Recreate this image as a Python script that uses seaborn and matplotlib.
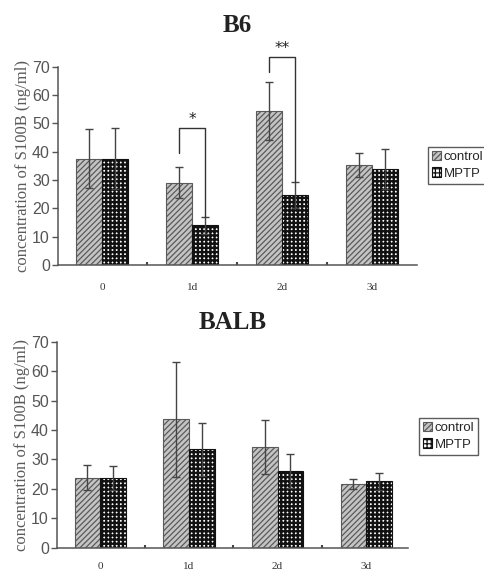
import matplotlib
matplotlib.use("Agg")
import matplotlib.pyplot as plt
import seaborn as sns
import pandas as pd
import numpy as np
from matplotlib.patches import Patch

days = ["0", "1d", "2d", "3d"]
groups = ["control", "MPTP"]

b6_control = [37.6, 29.1, 54.4, 35.3]
b6_control_err = [10.5, 5.6, 10.2, 4.2]
b6_mptp = [37.6, 14.1, 24.7, 33.8]
b6_mptp_err = [10.9, 3.0, 4.5, 7.0]

balb_control = [23.8, 43.6, 34.3, 21.5]
balb_control_err = [4.2, 19.5, 9.1, 1.7]
balb_mptp = [23.8, 33.5, 26.2, 22.6]
balb_mptp_err = [4.1, 9.0, 5.8, 2.9]

yticks = [0, 10, 20, 30, 40, 50, 60, 70]

sns.set_theme(style="white")
plt.rcParams["hatch.linewidth"] = 0.9

fig = plt.figure(figsize=(4.85, 5.73), dpi=100)
ax1 = fig.add_axes([0.120, 0.5375, 0.740, 0.346])
ax2 = fig.add_axes([0.118, 0.0442, 0.723, 0.3595])

GRAY = "#555555"
styles = {
    "control": dict(face="#c4c4c4", edge="#5a5a5a", hatch="//////", hlw=0.9),
    "MPTP": dict(face="#ffffff", edge="#111111", hatch="++++", hlw=1.7),
}


def style_patch(p, st):
    p.set_facecolor(st["face"])
    p.set_edgecolor(st["edge"])
    p.set_hatch(st["hatch"])
    if hasattr(p, "set_hatch_linewidth"):
        p.set_hatch_linewidth(st["hlw"])


def draw(ax, title, ctrl, ctrl_err, mptp, mptp_err, xlim, legend_pos, xpad,
         tpad):
    df = pd.DataFrame({
        "day": days * 2,
        "group": ["control"] * 4 + ["MPTP"] * 4,
        "value": list(ctrl) + list(mptp),
    })
    sns.barplot(data=df, x="day", y="value", hue="group", order=days,
                hue_order=groups, width=0.58, errorbar=None, ax=ax,
                legend=False)
    errs = {"control": ctrl_err, "MPTP": mptp_err}
    centers = {}
    for cont, g in zip(ax.containers, groups):
        st = styles[g]
        xs, hs = [], []
        for p in cont.patches:
            style_patch(p, st)
            p.set_linewidth(0.8)
            xs.append(p.get_x() + p.get_width() / 2)
            hs.append(p.get_height())
        centers[g] = (xs, hs)
        ax.errorbar(xs, hs, yerr=errs[g], fmt="none", ecolor="#444444",
                    elinewidth=1.0, capsize=3, capthick=1.0, zorder=5)
    ax.set_ylim(0, 70)
    ax.set_xlim(*xlim)
    ax.set_yticks(yticks)
    ax.set_yticklabels([str(t) for t in yticks], fontsize=11.5,
                       family="Liberation Sans", color=GRAY)
    ax.set_xticks(range(4))
    ax.set_xticklabels(days, fontsize=8, family="Liberation Serif",
                       color="#333333")
    ax.tick_params(axis="x", length=0, pad=xpad)
    ax.tick_params(axis="y", length=4, width=1, color=GRAY, direction="out",
                   left=True, pad=2)
    ax.set_xticks([0.5, 1.5, 2.5], minor=True)
    ax.tick_params(axis="x", which="minor", length=2, width=1.5,
                   direction="in", color="#444444", bottom=True)
    for s in ["top", "right"]:
        ax.spines[s].set_visible(False)
    for s in ["left", "bottom"]:
        ax.spines[s].set_color(GRAY)
        ax.spines[s].set_linewidth(1.1)
    ax.set_xlabel("")
    ax.set_ylabel("concentration of S100B (ng/ml)", fontsize=12,
                  family="Liberation Serif", color="#5a5a5a", labelpad=1)
    ax.set_title(title, fontsize=18, family="Liberation Serif",
                 fontweight="bold", color="#222222", pad=tpad)
    handles = []
    for g in groups:
        h = Patch(label=g, linewidth=0.8)
        style_patch(h, styles[g])
        handles.append(h)
    fig.legend(handles=handles, loc="upper left", bbox_to_anchor=legend_pos,
               bbox_transform=fig.transFigure, frameon=True,
               fancybox=False, edgecolor="#333333", handlelength=0.7,
               handleheight=0.7, handletextpad=0.2, borderpad=0.3,
               labelspacing=0.3, borderaxespad=0,
               prop={"family": "Liberation Sans", "size": 9.5})
    return centers


c1 = draw(ax1, "B6", b6_control, b6_control_err, b6_mptp, b6_mptp_err,
          (-0.49, 3.5), (0.882, 0.743), 13, 25)
draw(ax2, "BALB", balb_control, balb_control_err, balb_mptp, balb_mptp_err,
     (-0.485, 3.47), (0.864, 0.270), 10, 9)

# significance brackets (B6)
sig = [(1, 48.5, 39.4, 17.0, "*"), (2, 73.5, 68.0, 29.4, "**")]
for i, top, left_low, right_low, lab in sig:
    xl = c1["control"][0][i]
    xr = c1["MPTP"][0][i]
    ax1.plot([xl, xl, xr, xr], [left_low, top, top, right_low],
             color="#333333", lw=1.0, clip_on=False, zorder=6)
    ax1.text((xl + xr) / 2, top + 0.3, lab, ha="center", va="bottom",
             fontsize=11, color="#222222", clip_on=False)

fig.savefig("out.png", dpi=100)
